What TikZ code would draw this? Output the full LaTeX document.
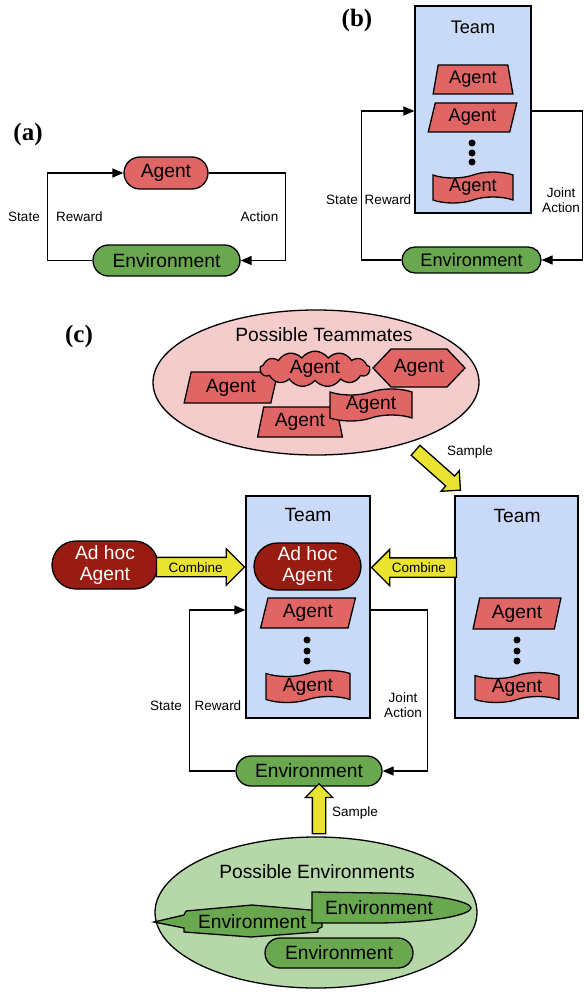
\documentclass[tikz,border=0pt]{standalone}
\usepackage{fontspec}
\setmainfont{Liberation Sans}
\newfontfamily\panelfont{Liberation Serif}
\usetikzlibrary{shapes.geometric,shapes.misc,shapes.symbols,shapes.arrows,arrows.meta}
\definecolor{agentred}{RGB}{224,102,102}
\definecolor{envgreen}{RGB}{106,168,79}
\definecolor{teamblue}{RGB}{201,218,248}
\definecolor{pinkbg}{RGB}{244,204,204}
\definecolor{greenbg}{RGB}{182,215,168}
\definecolor{adhocred}{RGB}{152,28,18}
\definecolor{arrowyellow}{RGB}{234,228,48}
\begin{document}
\begin{tikzpicture}[x=1pt,y=-1pt,
  big/.style={font=\fontsize{19.2}{22}\selectfont},
  mid/.style={font=\fontsize{18.2}{21}\selectfont},
  small/.style={font=\fontsize{13.5}{15}\selectfont},
  panel/.style={font=\fontsize{25}{25}\panelfont\bfseries},
  outline/.style={draw=black, line width=1.3pt},
  pill/.style={outline, rounded rectangle, inner sep=0pt, big},
  agentpill/.style={pill, fill=agentred},
  envpill/.style={pill, fill=envgreen},
  adhoc/.style={pill, fill=adhocred, text=white, align=center},
  teambox/.style={outline, rectangle, fill=teamblue, inner sep=0pt},
  trap/.style={outline, trapezium, trapezium stretches=true, fill=agentred, inner sep=0pt, big},
  wave/.style={outline, tape, tape bend top=in and out, tape bend bottom=in and out,
    tape bend height=6pt, fill=agentred, inner sep=0pt, big},
  dot/.style={circle, fill=black, inner sep=0pt, minimum size=7pt},
  conn/.style={draw=black, line width=1.3pt, -{Triangle[length=11pt,width=9pt]}},
  blockarrow/.style={outline, single arrow, fill=arrowyellow, single arrow head indent=0pt,
    inner sep=0pt, small},
  combine/.style={blockarrow, anchor=tip, minimum width=35pt, single arrow head extend=8.5pt,
    text height=10pt, text depth=0pt, inner ysep=4pt},
]
\useasboundingbox (0,0) rectangle (583,992);

% ---------------- (a) single agent loop ----------------
\node[panel] (pa) at (28,134) {(a)};
\node[agentpill, minimum width=84pt, minimum height=32pt] (aAgent) at (166,173) {Agent};
\node[envpill, minimum width=147pt, minimum height=31pt] (aEnv) at (166.5,260.5) {Environment};
\draw[conn] (aEnv.west) -- ++(-45,0) |- (aAgent.west);
\draw[conn] (aAgent.east) -- ++(77,0) |- (aEnv.east);
\node[small] (aState) at (24,217) {State};
\node[small] (aReward) at (79.5,217) {Reward};
\node[small] (aAction) at (259.5,217) {Action};

% ---------------- (b) team loop ----------------
\node[panel] (pb) at (357,20) {(b)};
\node[teambox, minimum width=116pt, minimum height=207pt] (bTeam) at (473,109.5) {};
\node[mid] (bTeamT) at (473,27) {Team};
\node[trap, mid, minimum width=80pt, minimum height=29pt,
  trapezium left angle=78, trapezium right angle=78] (bAg1) at (473,79.5) {Agent};
\node[trap, mid, minimum width=89pt, minimum height=29pt,
  trapezium left angle=74.6, trapezium right angle=105.4] (bAg2) at (472.5,117.5) {Agent};
\node[dot] (bD1) at (472,143) {};
\node[dot] (bD2) at (472,153) {};
\node[dot] (bD3) at (472,162) {};
\node[wave, mid, minimum width=80pt, minimum height=31pt] (bAg3) at (473,187.5) {Agent};
\node[envpill, mid, minimum width=139pt, minimum height=26pt] (bEnv) at (471.5,260) {Environment};
\draw[conn] (bEnv.west) -- ++(-40,0) |- ([yshift=-1.5pt]bTeam.west);
\draw[conn] ([yshift=-1.5pt]bTeam.east) -- ++(51,0) |- (bEnv.east);
\node[small] (bState) at (342,200) {State};
\node[small] (bReward) at (388,200) {Reward};
\node[small, align=center] (bJoint) at (561,200) {Joint\\Action};

% ---------------- (c) ad hoc teamwork ----------------
\node[panel] (pc) at (79,336) {(c)};

% pool of possible teammates
\node[outline, ellipse, fill=pinkbg, minimum width=326pt, minimum height=145pt, inner sep=0pt] (cMates) at (316,382.5) {};
\node[big] (cMatesT) at (324,335) {Possible Teammates};
\node[trap, minimum width=94pt, minimum height=31pt,
  trapezium left angle=75.5, trapezium right angle=104.5] (mA) at (231,387.5) {Agent};
\node[outline, cloud, cloud puffs=13, cloud puff arc=110, aspect=4, fill=agentred,
  minimum width=110pt, minimum height=27pt, inner sep=0pt, big] (mB) at (315,369) {Agent};
\node[outline, signal, signal to=east and west, signal pointer angle=93, fill=agentred,
  minimum width=92pt, minimum height=38pt, inner sep=0pt, big] (mC) at (419,368) {Agent};
\node[trap, minimum width=85pt, minimum height=30pt,
  trapezium left angle=76, trapezium right angle=76] (mD) at (300,422) {Agent};
\node[wave, minimum width=82pt, minimum height=32pt] (mE) at (371,405) {Agent};

\node[blockarrow, rotate=-41.6, minimum height=60pt, minimum width=26pt,
  text height=12pt, text depth=0pt] (cSample1) at (435.5,468) {};
\node[small] (cSample1T) at (470,452) {Sample};

% team that is sampled
\node[teambox, minimum width=123pt, minimum height=222pt] (cTeamR) at (516.5,607) {};
\node[big] (cTeamRT) at (517,516) {Team};
\node[trap, minimum width=88pt, minimum height=31pt,
  trapezium left angle=75.5, trapezium right angle=104.5] (rAg1) at (517,613.5) {Agent};
\node[dot] (rD1) at (517,640) {};
\node[dot] (rD2) at (517,651) {};
\node[dot] (rD3) at (517,661) {};
\node[wave, minimum width=84pt, minimum height=30pt] (rAg2) at (517,687.5) {Agent};

% team with the ad hoc agent
\node[teambox, minimum width=124pt, minimum height=222pt] (cTeam) at (308,607) {};
\node[big] (cTeamT) at (308,515) {Team};
\node[adhoc, minimum width=107pt, minimum height=47pt] (cAdIn) at (307.5,566.5) {Ad hoc\\[-1pt]Agent};
\node[trap, minimum width=95pt, minimum height=30pt,
  trapezium left angle=75, trapezium right angle=105] (tAg1) at (308,613) {Agent};
\node[dot] (tD1) at (307,640) {};
\node[dot] (tD2) at (307,651) {};
\node[dot] (tD3) at (307,661) {};
\node[wave, minimum width=84pt, minimum height=32pt] (tAg2) at (308,686.5) {Agent};

\node[adhoc, minimum width=106pt, minimum height=48pt] (cAdL) at (105,565) {Ad hoc\\[-1pt]Agent};

% combine arrows, tips resting on the team box
\node[combine, minimum height=88pt] (combL) at ([yshift=-2pt]cTeam.west |- cAdL.east) {Combine};
\node[combine, shape border rotate=180, minimum height=85pt] (combR) at ([yshift=-1pt]cTeam.east |- cAdIn.east) {Combine};

% environment loop
\node[envpill, minimum width=146pt, minimum height=30pt] (cEnv) at (309,771) {Environment};
\draw[conn] (cEnv.west) -- ++(-46,0) |- ([yshift=-3pt]cTeam.west);
\draw[conn] ([yshift=-3pt]cTeam.east) -- ++(57,0) |- (cEnv.east);
\node[small] (cState) at (166,706) {State};
\node[small] (cReward) at (218,706) {Reward};
\node[small, align=center] (cJoint) at (403,705) {Joint\\Action};

% pool of possible environments
\node[outline, ellipse, fill=greenbg, minimum width=322pt, minimum height=151pt, inner sep=0pt] (cEnvs) at (316,912.5) {};
\node[big] (cEnvsT) at (317,872) {Possible Environments};
\node[blockarrow, rotate=90, minimum height=50pt, minimum width=25pt,
  text height=12pt, text depth=0pt] (cSample2) at (319,812) {};
\node[small] (cSample2T) at (355,813) {Sample};

\draw[outline, fill=envgreen] (154,922) -- (184,915) -- (186,911) -- (252,905) -- (322,911)
  -- (322,927) -- (318,929) -- (318,932) -- (251,937) -- (184,932) -- (184,928) -- cycle;
\node[big] (eA) at (252,922) {Environment};
\draw[outline, fill=envgreen] (312,892) -- (380,893) .. controls (440,894) and (471,902) .. (471,908)
  .. controls (471,914) and (440,922) .. (380,923) -- (312,923) -- cycle;
\node[big] (eB) at (379,908) {Environment};
\node[envpill, minimum width=148pt, minimum height=30pt] (eC) at (339,953) {Environment};
\end{tikzpicture}
\end{document}
